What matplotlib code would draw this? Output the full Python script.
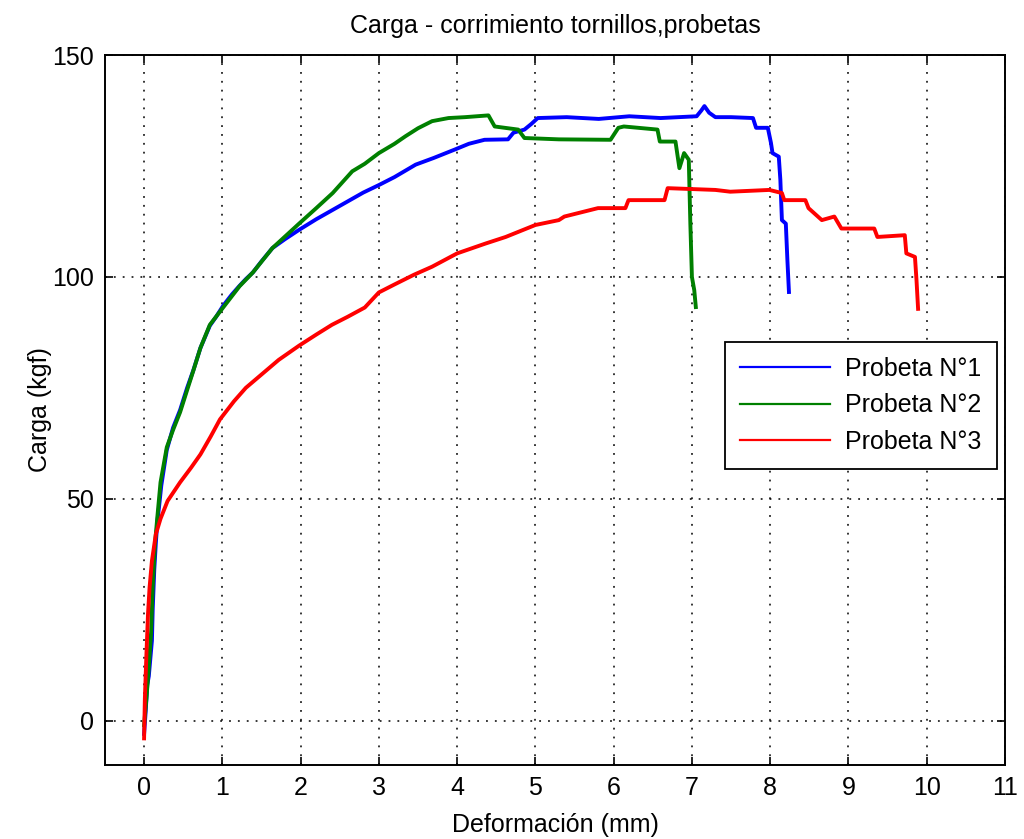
import matplotlib
matplotlib.use("Agg")
import matplotlib.pyplot as plt

# valores (Deformación mm, Carga kgf)
p1_x = [0.00, 0.02, 0.04, 0.06, 0.08, 0.10, 0.11, 0.13, 0.15, 0.17, 0.19, 0.22, 0.29, 0.37,
        0.46, 0.55, 0.63, 0.72, 0.84, 0.92, 1.01, 1.12, 1.22, 1.30, 1.39, 1.50, 1.64, 1.80,
        1.98, 2.20, 2.41, 2.60, 2.80, 3.00, 3.20, 3.47, 3.70, 3.97, 4.15, 4.35, 4.65, 4.72,
        4.86, 4.95, 5.03, 5.40, 5.81, 6.20, 6.60, 7.06, 7.12, 7.16, 7.22, 7.30, 7.50, 7.78,
        7.82, 7.97, 8.01, 8.03, 8.11, 8.13, 8.15, 8.20, 8.22, 8.24]
p1_y = [-3, 2, 8, 10, 14, 18, 25, 34, 40, 45, 48, 53, 61, 66,
        70, 75, 79, 84, 89, 91, 93.5, 96, 98, 99.5, 101, 103.5, 106.5, 108.5,
        110.6, 113, 115.1, 117, 119, 120.7, 122.5, 125.3, 126.8, 128.7, 130, 130.9, 131, 132.5,
        133.2, 134.5, 135.8, 136, 135.6, 136.2, 135.8, 136.2, 137.5, 138.5, 137, 136, 136, 135.8,
        133.6, 133.6, 130.2, 127.9, 127.1, 121.9, 112.8, 112, 103.8, 96.6]

p2_x = [0.00, 0.03, 0.06, 0.09, 0.11, 0.14, 0.17, 0.21, 0.29, 0.37, 0.46, 0.55, 0.63, 0.72,
        0.84, 1.01, 1.22, 1.39, 1.64, 1.98, 2.20, 2.41, 2.66, 2.82, 3.00, 3.20, 3.34, 3.50,
        3.68, 3.89, 4.10, 4.40, 4.48, 4.78, 4.86, 5.30, 5.96, 6.06, 6.13, 6.56, 6.59, 6.79,
        6.84, 6.90, 6.96, 6.98, 7.00, 7.03, 7.05]
p2_y = [-1, 5, 12, 20, 30, 40, 46, 53.7, 61.6, 65.5, 69.5, 74.5, 78.9, 84,
        89.2, 93.1, 97.9, 101, 106.5, 112, 115.5, 118.9, 123.8, 125.5, 127.9, 130, 131.7, 133.5,
        135.1, 135.8, 136, 136.4, 133.9, 133.2, 131.3, 131, 130.9, 133.6, 133.9, 133.2, 130.5, 130.5,
        124.5, 127.9, 126.4, 112, 100, 97, 93.2]

p3_x = [0.00, 0.01, 0.03, 0.05, 0.07, 0.10, 0.15, 0.21, 0.30, 0.46, 0.60, 0.72, 0.85, 0.97,
        1.15, 1.30, 1.50, 1.72, 1.98, 2.20, 2.40, 2.60, 2.82, 3.00, 3.20, 3.45, 3.68, 4.00,
        4.36, 4.62, 5.00, 5.30, 5.37, 5.80, 6.15, 6.19, 6.65, 6.69, 7.30, 7.49, 7.99, 8.15,
        8.18, 8.45, 8.49, 8.66, 8.82, 8.91, 9.33, 9.37, 9.72, 9.74, 9.85, 9.87, 9.89]
p3_y = [-4, 5, 15, 24, 30, 36, 42, 45.5, 49.5, 53.7, 57, 60, 64, 67.9,
        72, 75, 78, 81.3, 84.5, 87, 89.2, 91, 93.1, 96.5, 98.3, 100.5, 102.3, 105.3,
        107.5, 109, 111.7, 112.8, 113.6, 115.5, 115.5, 117.3, 117.3, 120, 119.6, 119.2, 119.6, 118.9,
        117.3, 117.3, 115.5, 112.8, 113.6, 110.9, 110.9, 109, 109.4, 105.3, 104.5, 99.2, 92.8]

etiquetas = ["Probeta N°1", "Probeta N°2", "Probeta N°3"]
x_ticks = list(range(0, 12))
y_ticks = [0, 50, 100, 150]

plt.rcParams['font.family'] = ['Liberation Sans', 'DejaVu Sans']

fig = plt.figure(figsize=(10.24, 8.39), dpi=100)
ax = fig.add_axes([0.1025, 0.0882, 0.8789, 0.8462])

ax.plot(p1_x, p1_y, color=(0, 0, 1), lw=2.8, label=etiquetas[0])
ax.plot(p2_x, p2_y, color=(0, 0.5, 0), lw=2.8, label=etiquetas[1])
ax.plot(p3_x, p3_y, color=(1, 0, 0), lw=2.8, label=etiquetas[2])

ax.set_xlim(-0.5, 11)
ax.set_ylim(-10, 150)
ax.set_xticks(x_ticks)
ax.set_yticks(y_ticks)
ax.tick_params(direction='in', length=6, width=1.2, top=True, right=True, labelsize=18, pad=8)
for s in ax.spines.values():
    s.set_linewidth(1.4)
    s.set_color('black')

ax.grid(True, color='black', linestyle=(0, (1.2, 4.6)), linewidth=1.1)

ax.set_title("Carga - corrimiento tornillos,probetas", fontsize=18, pad=16)
ax.set_xlabel("Deformación (mm)", fontsize=18, labelpad=9)
ax.set_ylabel("Carga (kgf)", fontsize=18, labelpad=0)

leg = ax.legend(loc='upper right', bbox_to_anchor=(0.991, 0.596), borderaxespad=0,
                fontsize=18, fancybox=False, edgecolor='black', framealpha=1,
                handlelength=3.6, handletextpad=0.6, borderpad=0.6, labelspacing=0.5)
leg.get_frame().set_linewidth(1.3)
for h in leg.get_lines():
    h.set_linewidth(1.6)

fig.savefig("out.png", dpi=100)
